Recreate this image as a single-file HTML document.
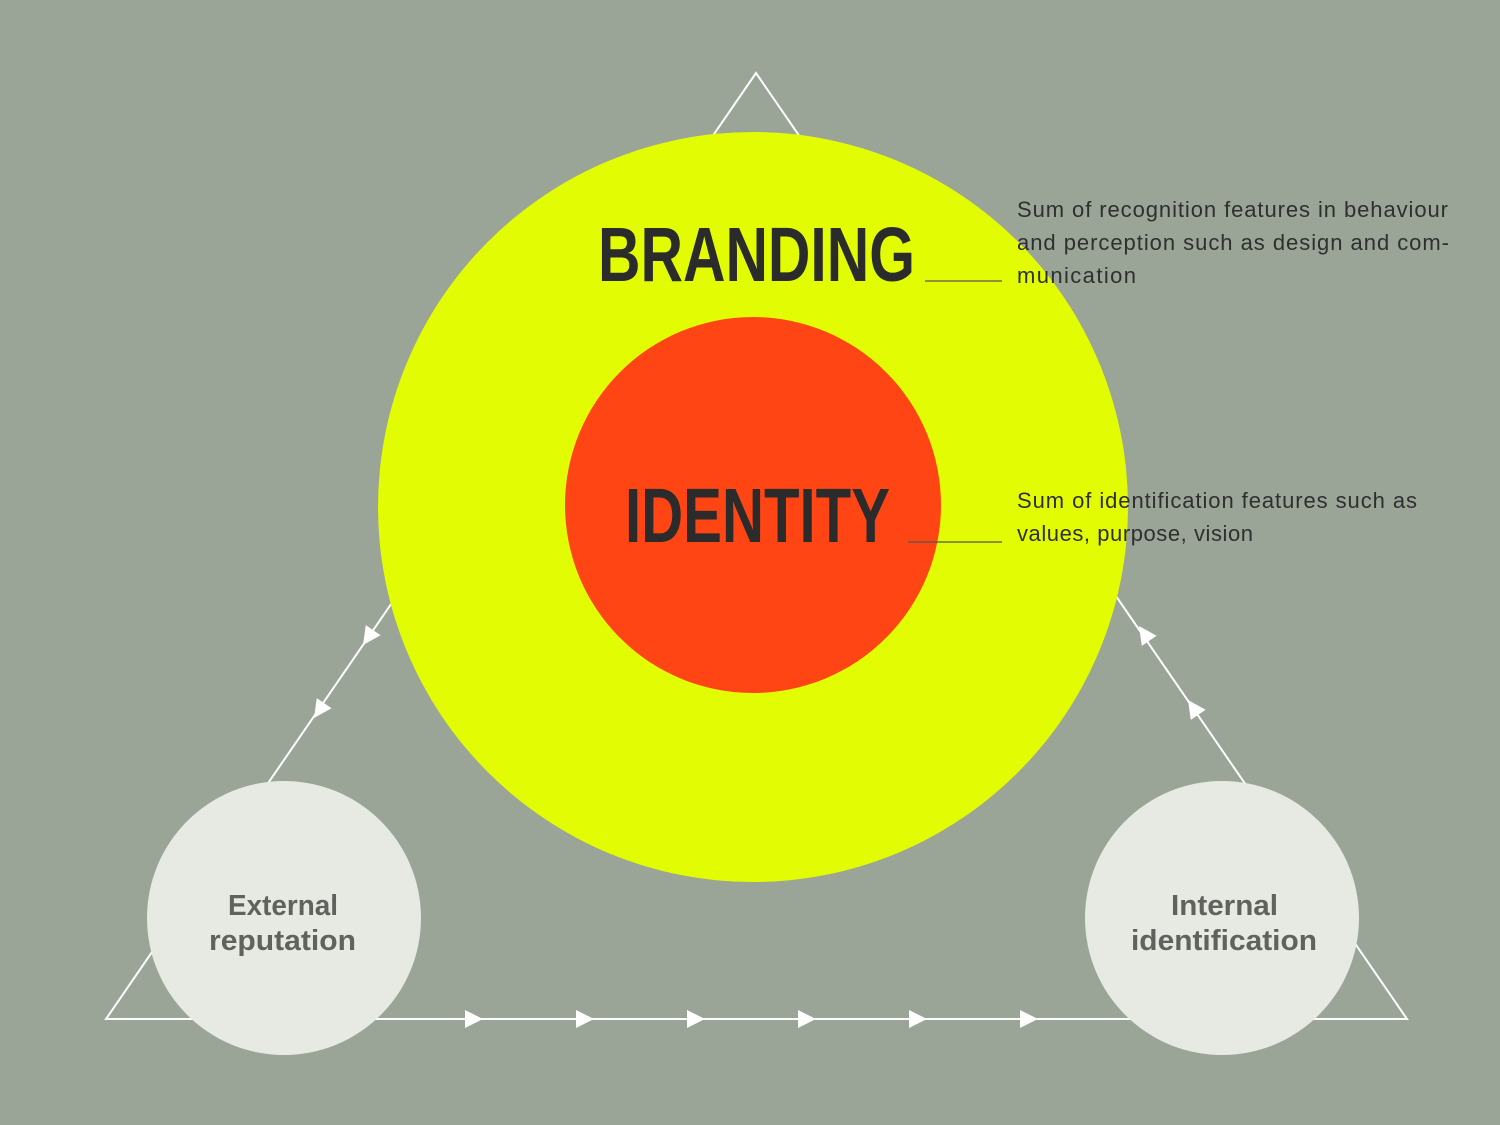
<!DOCTYPE html>
<html><head><meta charset="utf-8"><style>
html,body{margin:0;padding:0;background:#9aa497;}
svg{display:block}
</style></head><body>
<svg width="1500" height="1125" viewBox="0 0 1500 1125" xmlns="http://www.w3.org/2000/svg">
<rect width="1500" height="1125" fill="#9aa497"/>
<polygon points="756,73 106,1019 1407,1019" fill="none" stroke="#fff" stroke-width="2"/>
<g fill="#fff">
<path d="M0,0 L-18,-9 L-18,9 Z" transform="translate(363,645) rotate(124.5)"/>
<path d="M0,0 L-18,-9 L-18,9 Z" transform="translate(314,718) rotate(124.5)"/>
<path d="M0,0 L-18,-9 L-18,9 Z" transform="translate(1139,626) rotate(-124.5)"/>
<path d="M0,0 L-18,-9 L-18,9 Z" transform="translate(1188,700) rotate(-124.5)"/>
<path d="M0,0 L-18,-9 L-18,9 Z" transform="translate(483,1019)"/>
<path d="M0,0 L-18,-9 L-18,9 Z" transform="translate(594,1019)"/>
<path d="M0,0 L-18,-9 L-18,9 Z" transform="translate(705,1019)"/>
<path d="M0,0 L-18,-9 L-18,9 Z" transform="translate(816,1019)"/>
<path d="M0,0 L-18,-9 L-18,9 Z" transform="translate(927,1019)"/>
<path d="M0,0 L-18,-9 L-18,9 Z" transform="translate(1038,1019)"/>
</g>
<circle cx="753" cy="507" r="375" fill="#e2fd03"/>
<circle cx="753" cy="505" r="188" fill="#ff4514"/>
<circle cx="284" cy="918" r="137" fill="#e6eae2"/>
<circle cx="1222" cy="918" r="137" fill="#e6eae2"/>
<g font-family="Liberation Sans Narrow, Liberation Sans, sans-serif" font-weight="bold" fill="#2b2b2b">
<text x="598" y="281" font-size="77" textLength="317" lengthAdjust="spacingAndGlyphs">BRANDING</text>
<text x="625" y="542" font-size="77" textLength="265" lengthAdjust="spacingAndGlyphs">IDENTITY</text>
</g>
<line x1="925" y1="281" x2="1002" y2="281" stroke="#555" stroke-width="1.2"/>
<line x1="908" y1="542" x2="1002" y2="542" stroke="#555" stroke-width="1.2"/>
<g font-family="Liberation Sans, sans-serif" font-size="22" fill="#2f2f2f" lengthAdjust="spacingAndGlyphs">
<text x="1017" y="217" textLength="431">Sum of recognition features in behaviour</text>
<text x="1017" y="250" textLength="432">and perception such as design and com-</text>
<text x="1017" y="283" textLength="119">munication</text>
<text x="1017" y="508" textLength="400">Sum of identification features such as</text>
<text x="1017" y="541" textLength="236">values, purpose, vision</text>
</g>
<g font-family="Liberation Sans, sans-serif" font-size="29" font-weight="bold" fill="#5f625d">
<text x="228" y="915" textLength="110" lengthAdjust="spacingAndGlyphs">External</text>
<text x="209" y="950" textLength="147" lengthAdjust="spacingAndGlyphs">reputation</text>
<text x="1171" y="915" textLength="107" lengthAdjust="spacingAndGlyphs">Internal</text>
<text x="1131" y="950" textLength="186" lengthAdjust="spacingAndGlyphs">identification</text>
</g>
</svg>
</body></html>
